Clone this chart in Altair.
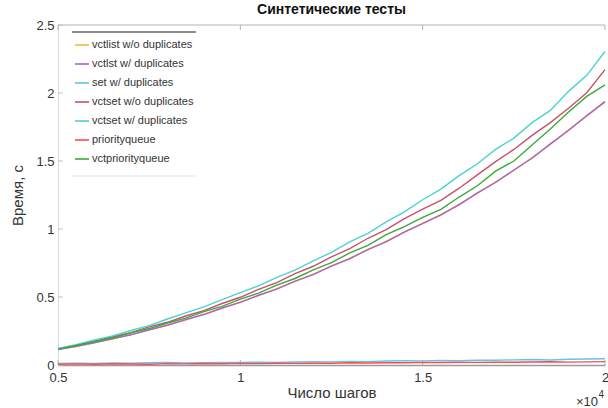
import altair as alt
import pandas as pd

steps = [5000, 5500, 6000, 6500, 7000, 7500, 8000, 8500, 9000, 9500, 10000,
         10500, 11000, 11500, 12000, 12500, 13000, 13500, 14000, 14500, 15000,
         15500, 16000, 16500, 17000, 17500, 18000, 18500, 19000, 19500, 20000]

series_names = ["vctlist w/o duplicates", "vctlst w/ duplicates", "set w/ duplicates",
                "vctset w/o duplicates", "vctset w/ duplicates", "priorityqueue",
                "vctpriorityqueue"]
series_colors = ["#f0b940", "#a864c8", "#5cc6f0", "#c8506a", "#4dd2d2", "#ff4a4a", "#3aaa3a"]

vctlist_wo = [0.115, 0.136, 0.165, 0.191, 0.224, 0.256, 0.295, 0.331, 0.374, 0.416, 0.464,
              0.510, 0.561, 0.613, 0.668, 0.725, 0.785, 0.846, 0.910, 0.975, 1.044,
              1.101, 1.183, 1.262, 1.347, 1.430, 1.525, 1.621, 1.729, 1.830, 1.940]
vctlst_w = [0.113, 0.138, 0.163, 0.194, 0.222, 0.259, 0.292, 0.334, 0.371, 0.419, 0.461,
            0.513, 0.558, 0.617, 0.665, 0.729, 0.781, 0.850, 0.906, 0.979, 1.040,
            1.105, 1.178, 1.266, 1.342, 1.434, 1.520, 1.626, 1.724, 1.834, 1.935]
set_w = [0.012, 0.014, 0.011, 0.015, 0.013, 0.016, 0.018, 0.015, 0.017, 0.019, 0.018,
         0.021, 0.019, 0.022, 0.024, 0.023, 0.027, 0.025, 0.029, 0.031, 0.030,
         0.034, 0.032, 0.036, 0.035, 0.038, 0.040, 0.037, 0.042, 0.044, 0.046]
vctset_wo = [0.118, 0.146, 0.173, 0.208, 0.238, 0.280, 0.314, 0.360, 0.400, 0.452, 0.498,
             0.556, 0.606, 0.672, 0.726, 0.795, 0.856, 0.932, 0.996, 1.076, 1.146,
             1.210, 1.300, 1.398, 1.495, 1.585, 1.688, 1.782, 1.888, 2.002, 2.172]
vctset_w = [0.122, 0.150, 0.184, 0.214, 0.254, 0.290, 0.338, 0.383, 0.427, 0.480, 0.532,
            0.582, 0.645, 0.698, 0.766, 0.828, 0.905, 0.968, 1.052, 1.126, 1.215,
            1.293, 1.392, 1.480, 1.585, 1.668, 1.782, 1.872, 2.012, 2.130, 2.305]
priorityqueue = [0.006, 0.008, 0.005, 0.009, 0.007, 0.006, 0.010, 0.008, 0.011, 0.009, 0.012,
                 0.010, 0.013, 0.012, 0.014, 0.013, 0.016, 0.015, 0.017, 0.016, 0.019,
                 0.018, 0.020, 0.019, 0.021, 0.020, 0.022, 0.024, 0.021, 0.023, 0.025]
vctpriorityqueue = [0.117, 0.143, 0.173, 0.200, 0.236, 0.268, 0.309, 0.345, 0.392, 0.431, 0.484,
                    0.529, 0.588, 0.636, 0.700, 0.752, 0.824, 0.880, 0.958, 1.018, 1.085,
                    1.145, 1.235, 1.318, 1.425, 1.500, 1.618, 1.735, 1.860, 1.975, 2.060]

x_ticks = [5000, 10000, 15000, 20000]
y_ticks = [0, 0.5, 1, 1.5, 2, 2.5]

all_series = [vctlist_wo, vctlst_w, set_w, vctset_wo, vctset_w, priorityqueue, vctpriorityqueue]
rows = []
for i, (name, vals) in enumerate(zip(series_names, all_series)):
    for s, v in zip(steps, vals):
        rows.append({"steps": s, "time": v, "series": name, "idx": i})
df = pd.DataFrame(rows)

W, H = 547, 340
FONT = "Liberation Sans"

xscale = alt.Scale(domain=[5000, 20000], nice=False)
yscale = alt.Scale(domain=[0, 2.5], nice=False)

lines = alt.Chart(df).mark_line(strokeWidth=1.4).encode(
    x=alt.X("steps:Q", scale=xscale,
            axis=alt.Axis(title="Число шагов", values=x_ticks, labelExpr="datum.value/10000",
                          ticks=False, grid=False, domainColor="#9a9a9a", domainWidth=1.5,
                          labelFontSize=13, labelColor="#333333", labelPadding=6,
                          titleFontSize=15, titleFontWeight="normal", titleColor="#333333",
                          titlePadding=1, labelFlush=False)),
    y=alt.Y("time:Q", scale=yscale,
            axis=alt.Axis(title="Время, с", values=y_ticks, labelExpr="'' + datum.value",
                          ticks=False, grid=False,
                          domainColor="#d8d8d8", labelFontSize=13, labelColor="#333333",
                          labelPadding=4, titleFontSize=15, titleFontWeight="normal",
                          titleColor="#333333", titlePadding=10, labelFlush=False)),
    color=alt.Color("series:N", sort=series_names,
                    scale=alt.Scale(domain=series_names, range=series_colors),
                    legend=alt.Legend(title=None, orient="none", legendX=16, legendY=12,
                                      symbolType="stroke", symbolSize=196, symbolStrokeWidth=1.6,
                                      labelFontSize=11, labelColor="#333333", labelOffset=2,
                                      rowPadding=6, padding=0, labelFont=FONT)),
    detail="idx:N",
)

tdf_x = pd.DataFrame({"v": x_ticks})
tdf_y = pd.DataFrame({"v": y_ticks})
xt_bottom = alt.Chart(tdf_x).mark_rule(color="#b0b0b0", strokeWidth=1).encode(
    x=alt.X("v:Q", scale=xscale), y=alt.value(H), y2=alt.value(H - 5))
xt_top = alt.Chart(tdf_x).mark_rule(color="#b0b0b0", strokeWidth=1).encode(
    x=alt.X("v:Q", scale=xscale), y=alt.value(0), y2=alt.value(5))
yt_left = alt.Chart(tdf_y).mark_rule(color="#c0c0c0", strokeWidth=1).encode(
    y=alt.Y("v:Q", scale=yscale), x=alt.value(0), x2=alt.value(5))

top_border = alt.Chart(tdf_x).mark_rule(color="#d8d8d8", strokeWidth=1.5).encode(
    x=alt.value(0), x2=alt.value(W), y=alt.value(0))
legend_top = alt.Chart(tdf_x).mark_rule(color="#8c8c8c", strokeWidth=1.5).encode(
    x=alt.value(14), x2=alt.value(138), y=alt.value(7))
legend_bottom = alt.Chart(tdf_x).mark_rule(color="#eeeeee", strokeWidth=1).encode(
    x=alt.value(14), x2=alt.value(138), y=alt.value(151))

exp_base = alt.Chart(pd.DataFrame({"t": ["×10"]})).mark_text(
    align="right", baseline="middle", fontSize=13, color="#333333", font=FONT).encode(
    text="t:N", x=alt.value(W - 7), y=alt.value(H + 37))
exp_pow = alt.Chart(pd.DataFrame({"t": ["4"]})).mark_text(
    align="right", baseline="middle", fontSize=10, color="#333333", font=FONT).encode(
    text="t:N", x=alt.value(W - 1), y=alt.value(H + 30))

chart = alt.layer(
    top_border, legend_top, legend_bottom, xt_bottom, xt_top, yt_left, lines, exp_base, exp_pow
).properties(
    width=W, height=H,
    title=alt.Title("Синтетические тесты", fontSize=14, fontWeight="bold", color="#111111",
                    font=FONT, offset=2, anchor="middle"),
    autosize=alt.AutoSizeParams(type="none"),
    padding={"left": 58, "top": 25, "right": 3, "bottom": 43},
).configure(font=FONT).configure_view(stroke=None)

chart.save("out.html", embed_options={"renderer": "svg", "actions": False})
